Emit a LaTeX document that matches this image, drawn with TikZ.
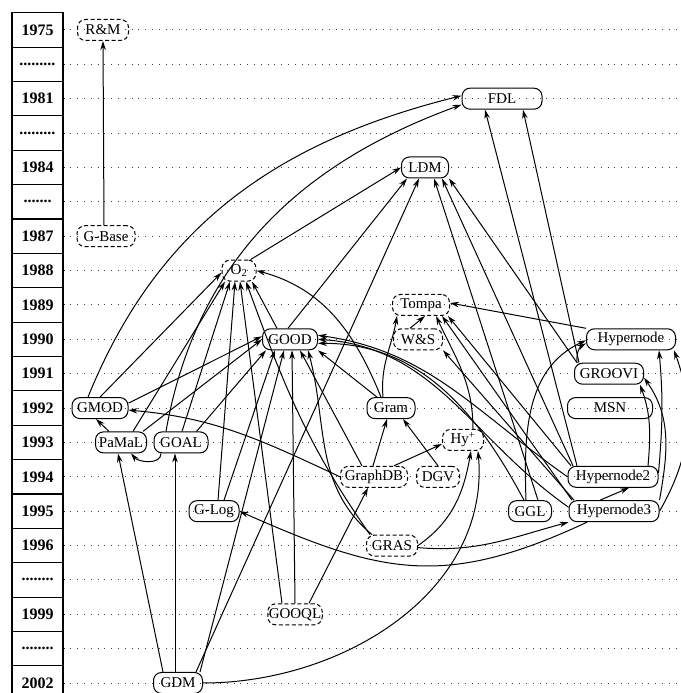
\documentclass[tikz,border=0pt]{standalone}
\usepackage{fontspec}
\setmainfont{Liberation Serif}
\usetikzlibrary{positioning,arrows.meta}

\newcommand{\gapnine}{.........}
\newcommand{\gapseven}{.......}
\newcommand{\gapeight}{........}

\tikzset{
  year cell/.style={draw, line width=1.1pt, minimum width=51pt, minimum height=34.37pt,
    inner sep=0pt, font=\fontsize{16}{18}\selectfont\bfseries},
  time line/.style={line width=1pt, black!75, dash pattern=on 1pt off 5.8pt},
  every model/.style={rounded corners=8pt, minimum height=21pt, inner sep=1pt,
    line width=1pt, font=\fontsize{15}{17}\selectfont},
  solid model/.style={every model, draw},
  dashed model/.style={every model, draw, dash pattern=on 4pt off 2.5pt},
}

\begin{document}
\begin{tikzpicture}[x=1pt, y=1pt, line width=1pt, >={Stealth[length=9pt, width=5.5pt]}]
    \useasboundingbox (0,0) rectangle (680,693);

    % time axis
    \foreach \l [count=\i from 0] in {1975,\gapnine,1981,\gapnine,1984,\gapseven,1987,1988,1989,1990,1991,1992,1993,1994,1995,1996,\gapeight,1999,\gapeight,2002}
    {
      \node [year cell] (year-\i) at (37.5, 663-34.37*\i) {\l};
      \draw [time line] (year-\i.east) -- ++(617,0);
    }

    % models
    \node [dashed model, minimum width=51] (rm) at (103,663) {R\&M};
    \node [dashed model, minimum width=58] (gbase) at (106,456.8) {G-Base};
    \node [solid model, minimum width=80] (fdl) at (502,594.3) {FDL};
    \node [solid model, minimum width=47] (ldm) at (425,525.5) {LDM};
    \node [dashed model, minimum width=34] (o2) at (239,422.4) {O\textsubscript{2}};
    \node [dashed model, minimum width=57] (tompa) at (421,388) {Tompa};
    \node [dashed model, minimum width=49] (ws) at (418,353.7) {W\&S};
    \node [solid model, minimum width=55] (good) at (290,353.7) {GOOD};
    \node [solid model, minimum width=89] (hypernode) at (631,353.7) {Hypernode};
    \node [solid model, minimum width=69] (groovi) at (609,319.3) {GROOVI};
    \node [solid model, minimum width=85] (msn) at (610,284.9) {MSN};
    \node [solid model, minimum width=56] (gmod) at (100,284.9) {GMOD};
    \node [solid model, minimum width=48] (gram) at (391,284.9) {Gram};
    \node [solid model, minimum width=51] (pamal) at (121,250.6) {PaMaL};
    \node [solid model, minimum width=54] (goal) at (181,250.6) {GOAL};
    \node [dashed model, minimum width=41] (hyplus) at (463,253) {Hy\textsuperscript{+}};
    \node [dashed model, minimum width=67] (graphdb) at (374,216.2) {GraphDB};
    \node [dashed model, minimum width=43] (dgv) at (438,216.2) {DGV};
    \node [solid model, minimum width=90] (hyp2) at (613,216.2) {Hypernode2};
    \node [solid model, minimum width=50] (glog) at (214,181.8) {G-Log};
    \node [solid model, minimum width=43] (ggl) at (530,181.8) {GGL};
    \node [solid model, minimum width=90] (hyp3) at (614,181.8) {Hypernode3};
    \node [dashed model, minimum width=51] (gras) at (392,147.4) {GRAS};
    \node [dashed model, minimum width=54] (gooql) at (295,78.7) {GOOQL};
    \node [solid model, minimum width=49] (gdm) at (178,10) {GDM};

    % influences
    \draw [->] ([xshift=-2pt]gbase.north) -- (rm.south);
    \draw [->] ([xshift=-12pt]gmod.north) to[out=68, in=194] ([yshift=3pt]fdl.west);
    \draw [->] ([xshift=-15pt]goal.north) to[out=80, in=200] ([yshift=-6pt]fdl.west);

    \draw [->] ([xshift=-6pt]o2.north east) -- (ldm.west);
    \draw [->] ([xshift=-2pt]good.north) -- ([xshift=-18pt]ldm.south);
    \draw [->] ([xshift=18pt]gdm.north) -- ([xshift=-6pt]ldm.south);
    \draw [->] ([xshift=8pt]ggl.north) -- ([xshift=9pt]ldm.south);
    \draw [->] ([xshift=-40pt]hyp2.north) -- ([xshift=17pt]ldm.south);
    \draw [->] ([xshift=-32pt]groovi.north) -- (ldm.south east);
    \draw [->] ([xshift=-36pt]hyp2.north) -- ([xshift=-17pt]fdl.south);
    \draw [->] ([xshift=-30pt]groovi.north) -- ([xshift=21pt]fdl.south);

    \draw [->] ([xshift=-13pt]good.north) -- ([xshift=13pt]o2.south);
    \draw [->] ([xshift=-10pt]gram.north) to[out=112, in=-15] (o2.east);
    \draw [->] (gmod.north) -- ([yshift=-2pt]o2.west);
    \draw [->] ([xshift=12pt]pamal.north) -- ([xshift=-14pt]o2.south);
    \draw [->] ([xshift=1pt]goal.north) -- ([xshift=-9pt]o2.south);
    \draw [->] ([xshift=4pt]glog.north) -- ([xshift=-4pt]o2.south);
    \draw [->] ([xshift=-13pt]gooql.north) -- ([xshift=1pt]o2.south);
    \draw [->] ([xshift=-22pt]gras.north) to[out=125, in=-70] ([xshift=7pt]o2.south);

    \draw [->] ([yshift=5pt]gmod.east) -- ([yshift=3pt]good.west);
    \draw [->] ([xshift=-4pt]pamal.north east) -- (good.west);
    \draw [->] ([xshift=-12pt]goal.north east) -- ([xshift=4pt]good.south west);
    \draw [->] ([xshift=10pt]glog.north) -- ([xshift=-15pt]good.south);
    \draw [->] ([xshift=22pt]gdm.north) -- ([xshift=-6pt]good.south);
    \draw [->] (gooql.north) -- ([xshift=2pt]good.south);
    \draw [->] ([xshift=-12pt]graphdb.north) -- ([xshift=10pt]good.south);
    \draw [->] ([xshift=-20pt]gras.north) to[out=140, in=-75] ([xshift=18pt]good.south);
    \draw [->] ([xshift=-14pt]gram.north) -- (good.south east);
    \draw [->] (hyp2.west) to[out=145, in=-8] ([yshift=4pt]good.east);
    \draw [->] ([yshift=4pt]hyp3.west) to[out=145, in=-4] (good.east);
    \draw [->] ([xshift=-6pt]ggl.north) to[out=118, in=0] ([yshift=-4pt]good.east);

    \draw [->] ([xshift=-8pt]gram.north) to[out=95, in=-100] ([xshift=-24pt]tompa.south);
    \draw [->] ([xshift=-8pt]ws.north) -- ([xshift=4pt]tompa.south);
    \draw [->] (hypernode.north west) -- ([yshift=2pt]tompa.east);
    \draw [->] ([xshift=-42pt]hyp2.north) -- ([xshift=-2pt]tompa.south east);
    \draw [->] ([xshift=-42pt]hyp3.north) -- ([xshift=-8pt]tompa.south east);
    \draw [->] ([xshift=10pt]hyplus.north) to[out=90, in=-65] ([xshift=-14pt]tompa.south east);
    \draw [->] ([xshift=-40pt]hyp3.north) -- (ws.south east);

    \draw [->] ([xshift=-1pt]graphdb.north) -- ([xshift=-4pt]gram.south);
    \draw [->] (dgv.north) -- ([xshift=12pt]gram.south);
    \draw [->] ([xshift=20pt]graphdb.north) -- ([yshift=-4pt]hyplus.west);
    \draw [->] (gras.east) to[out=35, in=-100] ([xshift=8pt]hyplus.south);
    \draw [->] (gdm.east) to[out=0, in=-85] ([xshift=15pt]hyplus.south);
    \draw [->] ([xshift=14pt]gooql.north) -- ([xshift=-6pt]graphdb.south);
    \draw [->] (graphdb.west) to[out=155, in=-5] ([yshift=-2pt]gmod.east);

    \draw [->] ([xshift=-12pt]pamal.north) -- ([xshift=-4pt]gmod.south);
    \draw [->] ([xshift=-20pt]goal.south) to[out=-90, in=-50] ([xshift=-16pt]pamal.south east);
    \draw [->] ([xshift=-15pt]gdm.north) -- ([xshift=-3pt]pamal.south);
    \draw [->] ([xshift=-3pt]gdm.north) -- ([xshift=-6pt]goal.south);

    \draw [->] ([xshift=-27pt]hyp3.south) to[out=205, in=-24, looseness=1.15] (glog.east);
    \draw [->] ([yshift=-2pt]gras.east) to[out=-5, in=195] (hyp3.south west);
    \draw [->] ([xshift=-14pt]hyp3.north) -- ([xshift=16pt]hyp2.south);
    \draw [->] ([xshift=35pt]hyp2.north) to[out=85, in=-70] ([xshift=-4pt]groovi.south east);
    \draw [->] (hyp3.north east) to[out=80, in=-55] ([yshift=-4pt]groovi.east);
    \draw [->] ([yshift=4pt]hyp2.east) to[out=85, in=-85] ([xshift=28pt]hypernode.south);
    \draw [->] (hyp3.east) to[out=60, in=-70] ([xshift=-2pt]hypernode.south east);
    \draw [->] ([xshift=3pt]groovi.north west) to[out=95, in=210] ([yshift=-4pt]hypernode.west);
    \draw [->] ([xshift=-4pt]ggl.north) to[out=92, in=205] ([yshift=-1pt]hypernode.west);
\end{tikzpicture}
\end{document}
